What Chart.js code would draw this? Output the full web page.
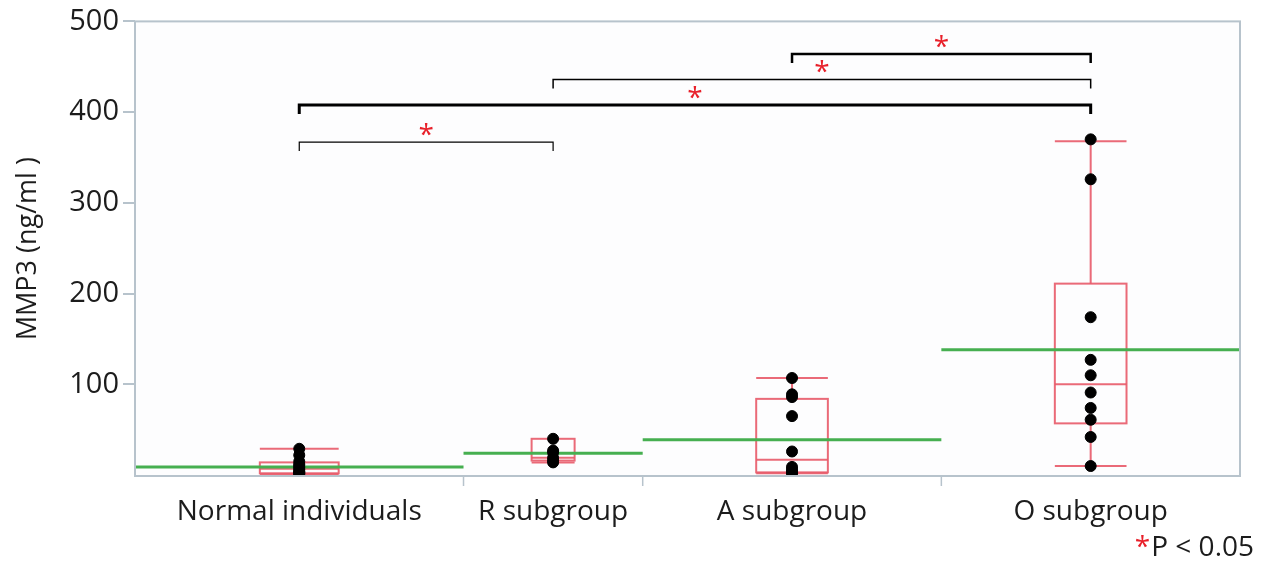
<!DOCTYPE html>
<html>
<head>
<meta charset="utf-8">
<script src="https://cdn.jsdelivr.net/npm/chart.js@4.4.1/dist/chart.umd.min.js"></script>
<style>
  html, body { margin: 0; padding: 0; background: #fff; }
  #wrap { width: 1262px; height: 561px; position: relative; }
</style>
</head>
<body>
<div id="wrap"><canvas id="chart"></canvas></div>
<script>
// --- DATA ---
const groups = ['Normal individuals', 'R subgroup', 'A subgroup', 'O subgroup'];

const normalValues = [29, 22, 15, 12, 10, 8, 6, 4, 3, 2, 1];
const rValues = [40, 27, 25, 19, 16, 14];
const aValues = [107, 89, 86, 65, 26, 9, 6, 4, 3, 2];
const oValues = [370, 326, 174, 127, 110, 91, 74, 61, 42, 10];

// box summary per group
const whiskerLow = [1, 14, 2, 10];
const q1 = [2, 16, 3, 57];
const median = [7, 19, 17, 100];
const q3 = [14, 40, 84, 211];
const whiskerHigh = [29, 40, 107, 368];
const means = [9, 24, 39, 138];

// significance brackets: [from group, to group, height]
const brackets = [
    [2, 3, 464],
    [1, 3, 436],
    [0, 3, 408],
    [0, 1, 367]
];

const yTicks = [100, 200, 300, 400, 500];

// --- layout helpers ---
const allValues = [normalValues, rValues, aValues, oValues];
const counts = allValues.map(v => v.length);
const starts = [];
counts.reduce((acc, n) => { starts.push(acc); return acc + n; }, 0);
const total = counts.reduce((a, b) => a + b, 0);
const centers = counts.map((n, i) => starts[i] + n / 2);

const RED = 'rgba(232, 90, 105, 0.9)';
const GREEN = 'rgb(70, 175, 80)';
const FRAME = '#b7c3cc';
const TEXT = '#1c1c1c';

const pointData = [];
allValues.forEach((vals, i) => vals.forEach(v => pointData.push({ x: centers[i], y: v })));

const meanDatasets = means.map((m, i) => ({
    type: 'line',
    data: [{ x: starts[i], y: m }, { x: starts[i] + counts[i], y: m }],
    borderColor: GREEN,
    borderWidth: 3,
    pointRadius: 0,
    order: 3
}));

const framePlugin = {
    id: 'frame',
    beforeDraw(chart) {
        const { ctx, chartArea: a } = chart;
        ctx.save();
        ctx.fillStyle = '#fdfdfe';
        ctx.fillRect(a.left, a.top, a.right - a.left, a.bottom - a.top);
        ctx.restore();
    },
    afterDraw(chart) {
        const { ctx, chartArea: a, scales: { x } } = chart;
        ctx.save();
        ctx.strokeStyle = FRAME;
        ctx.lineWidth = 2;
        ctx.strokeRect(a.left, a.top, a.right - a.left, a.bottom - a.top);
        // group boundary ticks below the axis
        ctx.lineWidth = 1.5;
        for (let i = 1; i < counts.length; i++) {
            const px = x.getPixelForValue(starts[i]);
            ctx.beginPath();
            ctx.moveTo(px, a.bottom);
            ctx.lineTo(px, a.bottom + 10);
            ctx.stroke();
        }
        // footnote
        ctx.font = '28px "Open Sans"';
        ctx.textBaseline = 'alphabetic';
        ctx.textAlign = 'right';
        ctx.fillStyle = TEXT;
        ctx.fillText('P < 0.05', 1254, 556);
        const w = ctx.measureText('P < 0.05').width;
        ctx.fillStyle = '#e8202a';
        ctx.fillText('*', 1254 - w - 1, 556);
        ctx.restore();
    }
};

const boxPlugin = {
    id: 'boxes',
    beforeDatasetsDraw(chart) {
        const { ctx, scales: { x, y } } = chart;
        ctx.save();
        ctx.strokeStyle = RED;
        ctx.lineWidth = 2;
        groups.forEach((g, i) => {
            const half = counts[i] * 0.12;
            const l = x.getPixelForValue(centers[i] - half);
            const r = x.getPixelForValue(centers[i] + half);
            const c = x.getPixelForValue(centers[i]);
            const yq1 = y.getPixelForValue(q1[i]);
            const yq3 = y.getPixelForValue(q3[i]);
            const ym = y.getPixelForValue(median[i]);
            const ylo = y.getPixelForValue(whiskerLow[i]);
            const yhi = y.getPixelForValue(whiskerHigh[i]);
            ctx.strokeRect(l, yq3, r - l, yq1 - yq3);
            ctx.beginPath();
            ctx.moveTo(l, ym); ctx.lineTo(r, ym);
            ctx.moveTo(c, yq3); ctx.lineTo(c, yhi);
            ctx.moveTo(c, yq1); ctx.lineTo(c, ylo);
            if (whiskerHigh[i] > q3[i]) { ctx.moveTo(l, yhi); ctx.lineTo(r, yhi); }
            if (whiskerLow[i] < q1[i]) { ctx.moveTo(l, ylo); ctx.lineTo(r, ylo); }
            ctx.stroke();
        });
        ctx.restore();
    },
    afterDatasetsDraw(chart) {
        // significance brackets
        const { ctx, scales: { x, y } } = chart;
        const widths = [2.5, 1.5, 3, 1.2];
        ctx.save();
        brackets.forEach(([from, to, h], k) => {
            const x1 = x.getPixelForValue(centers[from]);
            const x2 = x.getPixelForValue(centers[to]);
            const yy = y.getPixelForValue(h);
            ctx.strokeStyle = '#000';
            ctx.lineWidth = widths[k];
            ctx.beginPath();
            ctx.moveTo(x1, yy + 9);
            ctx.lineTo(x1, yy);
            ctx.lineTo(x2, yy);
            ctx.lineTo(x2, yy + 9);
            ctx.stroke();
            ctx.fillStyle = '#e8202a';
            ctx.font = '28px "Open Sans"';
            ctx.textAlign = 'center';
            ctx.textBaseline = 'alphabetic';
            ctx.fillText('*', (x1 + x2) / 2, yy + 2);
        });
        ctx.restore();
    }
};

new Chart(document.getElementById('chart'), {
    data: {
        datasets: [
            ...meanDatasets,
            {
                type: 'scatter',
                data: pointData,
                backgroundColor: '#000',
                borderColor: '#000',
                pointRadius: 5.5,
                order: 1
            }
        ]
    },
    options: {
        responsive: true,
        maintainAspectRatio: false,
        animation: false,
        layout: { padding: { top: 20, right: 22, left: 0, bottom: 0 } },
        plugins: {
            legend: { display: false },
            tooltip: { enabled: false }
        },
        scales: {
            x: {
                type: 'linear',
                min: 0,
                max: total,
                afterBuildTicks(scale) {
                    scale.ticks = centers.map(c => ({ value: c }));
                },
                afterFit(scale) { scale.height = 85; },
                ticks: {
                    autoSkip: false,
                    maxRotation: 0,
                    padding: 11,
                    color: TEXT,
                    font: { family: 'Open Sans', size: 28 },
                    callback: (v, i) => groups[i]
                },
                grid: { display: false },
                border: { display: false }
            },
            y: {
                min: -1,
                max: 500,
                afterBuildTicks(scale) {
                    scale.ticks = yTicks.map(v => ({ value: v }));
                },
                afterFit(scale) { scale.width = 135; },
                ticks: {
                    padding: 4,
                    color: TEXT,
                    font: { family: 'Open Sans', size: 29 }
                },
                grid: {
                    drawOnChartArea: false,
                    drawTicks: true,
                    tickLength: 12,
                    color: FRAME,
                    lineWidth: 2
                },
                border: { display: false },
                title: {
                    display: true,
                    text: 'MMP3 (ng/ml )',
                    color: TEXT,
                    font: { family: 'Open Sans', size: 27 },
                    padding: { top: 12, bottom: 0 }
                }
            }
        }
    },
    plugins: [framePlugin, boxPlugin]
});
</script>
</body>
</html>
